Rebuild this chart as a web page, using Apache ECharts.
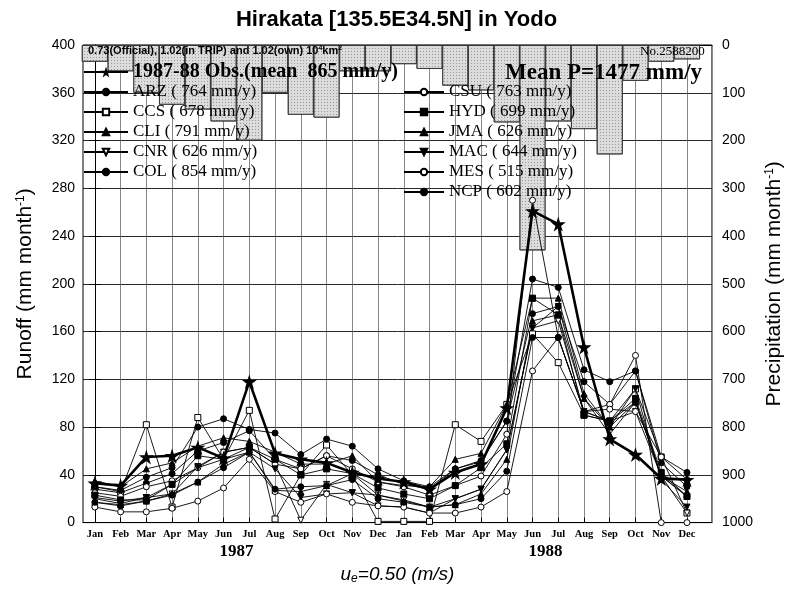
<!DOCTYPE html>
<html>
<head>
<meta charset="utf-8">
<script src="https://cdn.jsdelivr.net/npm/echarts@6/dist/echarts.min.js"></script>
<style>html,body{margin:0;padding:0;background:#fff}#c{width:793px;height:590px}</style>
</head>
<body>
<div id="c"></div>
<script>
// ---- data ----
const months = ['Jan','Feb','Mar','Apr','May','Jun','Jul','Aug','Sep','Oct','Nov','Dec'];
const monthLabels = months.concat(months);
const years = ['1987', '1988'];
const runoffTicks = [0,40,80,120,160,200,240,280,320,360,400];
const precipTicks = [0,100,200,300,400,500,600,700,800,900,1000];

// monthly precipitation (mm/month), Jan 1987 .. Dec 1988
const precip = [35,55,100,125,135,160,200,100,146,152,55,55, 40,50,85,95,162,430,160,176,229,75,35,30];

// observed runoff (mm/month)
const obs = [33,31,55,56,63,54,118,58,53,50,42,37, 34,28,42,49,96,261,250,147,70,57,37,36];

// model runoff (mm/month)
const ARZ = [28,25,33,41,60,67,77,53,45,56,52,40, 32,28,45,51,85,175,181,118,99,127,50,30];
const CCS = [30,26,82,13,88,53,94,3,40,65,40,1, 1,1,82,68,99,158,134,90,85,112,55,8];
const CLI = [35,30,45,50,64,71,68,59,49,49,56,34, 31,30,53,58,99,188,188,108,80,101,39,26];
const CNR = [20,16,21,24,47,59,63,49,2,32,25,23, 19,13,20,28,61,163,169,93,85,93,39,8];
const COL = [30,27,38,46,80,87,78,75,57,70,64,45, 35,30,45,52,85,204,197,128,118,127,55,42];
const CSU = [25,22,30,35,46,59,63,49,45,56,45,34, 30,23,31,39,74,270,155,93,99,140,0,0];
const HYD = [23,19,19,32,56,53,63,53,40,45,41,29, 24,20,31,46,66,188,174,90,85,104,42,22];
const JMA = [17,15,18,24,34,49,59,27,26,31,41,23, 18,13,15,24,53,169,174,104,74,101,39,22];
const MAC = [21,18,21,32,46,53,59,45,21,24,25,14, 13,8,20,28,61,163,181,104,80,112,36,13];
const MES = [13,9,9,12,18,29,53,26,17,24,17,14, 13,8,8,13,26,127,155,93,95,93,55,36];
const NCP = [17,14,18,23,34,46,59,28,30,31,36,20, 17,13,15,20,43,155,155,93,85,101,39,22];

const modelNames = ['ARZ','CCS','CLI','CNR','COL','CSU','HYD','JMA','MAC','MES','NCP'];
const modelMeans = [764,678,791,626,854,763,699,626,644,515,602];
const modelData = [ARZ,CCS,CLI,CNR,COL,CSU,HYD,JMA,MAC,MES,NCP];
const obsMean = 865;
const meanP = 1477;

// ---- styles ----
const symbolStyle = {
  ARZ:{symbol:'circle', fill:'#000', rot:0},
  CCS:{symbol:'rect', fill:'#fff', rot:0},
  CLI:{symbol:'triangle', fill:'#000', rot:0},
  CNR:{symbol:'triangle', fill:'#fff', rot:180},
  COL:{symbol:'circle', fill:'#000', rot:0},
  CSU:{symbol:'circle', fill:'#fff', rot:0},
  HYD:{symbol:'rect', fill:'#000', rot:0},
  JMA:{symbol:'triangle', fill:'#000', rot:0},
  MAC:{symbol:'triangle', fill:'#000', rot:180},
  MES:{symbol:'circle', fill:'#fff', rot:0},
  NCP:{symbol:'circle', fill:'#000', rot:0}
};
const STAR = 'path://M50,0 L61,35 L98,35 L68,57 L79,91 L50,70 L21,91 L32,57 L2,35 L39,35 Z';
const SERIF = "'Liberation Serif','DejaVu Serif',serif";
const SANS = "'Liberation Sans',Arial,sans-serif";
const idx = monthLabels.map((m,i)=>i);
const xMin = -0.46, xMax = 23.97;

const series = [];
series.push({
  name:'P', type:'bar', xAxisIndex:0, yAxisIndex:1, barWidth:26, z:1,
  data: precip.map((v,i)=>[i,v]),
  itemStyle:{color:'#dcdcdc', borderColor:'#333', borderWidth:0.8,
    decal:{symbol:'rect', symbolSize:1, color:'rgba(0,0,0,0.3)', dashArrayX:[1,2], dashArrayY:[1,2]}},
  silent:true
});
modelNames.forEach((n,k)=>{
  const s = symbolStyle[n];
  series.push({
    name:n, type:'line', xAxisIndex:0, yAxisIndex:0, z:3,
    data: modelData[k].map((v,i)=>[i,v]),
    symbol:s.symbol, symbolSize:6, symbolRotate:s.rot, showAllSymbol:true,
    lineStyle:{color:'#000', width:0.9},
    itemStyle:{color:s.fill, borderColor:'#000', borderWidth:1},
    animation:false
  });
});
series.push({
  name:'Obs', type:'line', xAxisIndex:0, yAxisIndex:0, z:5,
  data: obs.map((v,i)=>[i,v]),
  symbol:STAR, symbolSize:15,
  lineStyle:{color:'#000', width:2.6},
  itemStyle:{color:'#000', borderColor:'#000', borderWidth:0},
  animation:false
});

const legendText = {fontFamily:SERIF, fontSize:17, color:'#000'};
const fmtModel = name => name + ' ( ' + modelMeans[modelNames.indexOf(name)] + ' mm/y)';

const option = {
  animation:false,
  backgroundColor:'#fff',
  title:[
    {text:'Hirakata [135.5E34.5N] in Yodo', left:'center', top:4,
     textStyle:{fontFamily:SANS, fontWeight:'bold', fontSize:22, color:'#000'}},
    {text:'0.73(Official), 1.02(in TRIP) and 1.02(own) 10{sup|4}km{sup|2}', left:88, top:45, padding:0,
     textStyle:{fontFamily:"'Liberation Sans Narrow','Liberation Sans',sans-serif", fontSize:11, color:'#000',
       rich:{sup:{fontSize:7, verticalAlign:'top', padding:[0,0,5,0], fontFamily:SANS}}}},
    {text:'No.2588200', left:640, top:45, padding:0,
     textStyle:{fontFamily:SERIF, fontSize:13, fontWeight:'normal', color:'#000'}},
    {text:'Mean P=' + meanP + ' mm/y', left:505, top:62, padding:0,
     textStyle:{fontFamily:SERIF, fontSize:23, fontWeight:'bold', color:'#000'}}
  ],
  grid:{left:83, right:70, top:45, bottom:51, show:true, borderColor:'#000', borderWidth:1, backgroundColor:'transparent'},
  legend:[
    {data:['Obs'], left:83, top:62, padding:0, itemWidth:44, itemHeight:14, selectedMode:false,
     formatter:()=> '1987-88 Obs.(mean  ' + obsMean + ' mm/y)',
     textStyle:{fontFamily:SERIF, fontSize:20, fontWeight:'bold', color:'#000'}},
    {data:['ARZ','CCS','CLI','CNR','COL'], orient:'vertical', left:83, top:83, padding:0, itemGap:2,
     itemWidth:44, itemHeight:8, selectedMode:false, formatter:fmtModel, textStyle:Object.assign({lineHeight:18}, legendText)},
    {data:['CSU','HYD','JMA','MAC','MES','NCP'], orient:'vertical', left:403, top:83, padding:0, itemGap:2,
     itemWidth:40, itemHeight:8, selectedMode:false, formatter:fmtModel, textStyle:Object.assign({lineHeight:18}, legendText)}
  ],
  xAxis:[
    {type:'value', min:xMin, max:xMax, position:'bottom',
     axisLine:{show:true, lineStyle:{color:'#000', width:1}},
     axisTick:{show:true, inside:true, length:5, customValues:idx, lineStyle:{color:'#000'}},
     axisLabel:{customValues:idx, formatter:v=>monthLabels[Math.round(v)], fontFamily:SERIF, fontWeight:'bold', fontSize:10.5, color:'#000', margin:6},
     splitLine:{show:true, lineStyle:{color:'#555', width:0.7}}},
    {type:'value', min:xMin, max:xMax, position:'bottom', offset:17,
     axisLine:{show:false}, axisTick:{show:false}, splitLine:{show:false},
     axisLabel:{customValues:[5.5,17.5], formatter:v=> v<12 ? years[0] : years[1], fontFamily:SERIF, fontWeight:'bold', fontSize:17, color:'#000', margin:4},
     name:'{i|u}{sub|e}{i|=0.50 (m/s)}', nameLocation:'middle', nameGap:15,
     nameTextStyle:{rich:{i:{fontFamily:SANS, fontStyle:'italic', fontSize:19, color:'#000'},
                          sub:{fontFamily:SANS, fontStyle:'italic', fontSize:12, color:'#000', verticalAlign:'bottom', padding:[8,0,0,0]}}}},
    {type:'value', min:xMin, max:xMax, position:'top',
     axisLine:{show:true, lineStyle:{color:'#000'}}, axisLabel:{show:false},
     axisTick:{show:true, inside:true, length:6, customValues:idx, lineStyle:{color:'#000'}}, splitLine:{show:false}}
  ],
  yAxis:[
    {type:'value', min:runoffTicks[0], max:runoffTicks[runoffTicks.length-1], interval:40, position:'left',
     axisLine:{show:true, lineStyle:{color:'#000'}},
     axisTick:{show:true, length:6, lineStyle:{color:'#000'}},
     axisLabel:{fontFamily:SANS, fontSize:14, color:'#000', margin:8, formatter:v=>String(v)},
     splitLine:{show:true, lineStyle:{color:'#111', width:0.9}},
     name:'Runoff (mm month{sup|-1})', nameLocation:'middle', nameGap:47, nameRotate:90,
     nameTextStyle:{fontFamily:SANS, fontSize:21, color:'#000', rich:{sup:{fontSize:12, verticalAlign:'top', padding:[0,0,8,0], fontFamily:SANS, color:'#000'}}}},
    {type:'value', min:precipTicks[0], max:precipTicks[precipTicks.length-1], interval:100, inverse:true, position:'right',
     axisLine:{show:true, lineStyle:{color:'#000'}},
     axisTick:{show:true, length:6, lineStyle:{color:'#000'}},
     axisLabel:{fontFamily:SANS, fontSize:14, color:'#000', margin:10, formatter:v=>String(v)},
     splitLine:{show:false},
     name:'Precipitation (mm month{sup|-1})', nameLocation:'middle', nameGap:52, nameRotate:90,
     nameTextStyle:{fontFamily:SANS, fontSize:21, color:'#000', rich:{sup:{fontSize:12, verticalAlign:'top', padding:[0,0,8,0], fontFamily:SANS, color:'#000'}}}}
  ],
  series:series
};
const chart = echarts.init(document.getElementById('c'), null, {renderer:'canvas'});
chart.setOption(option);
</script>
</body>
</html>
